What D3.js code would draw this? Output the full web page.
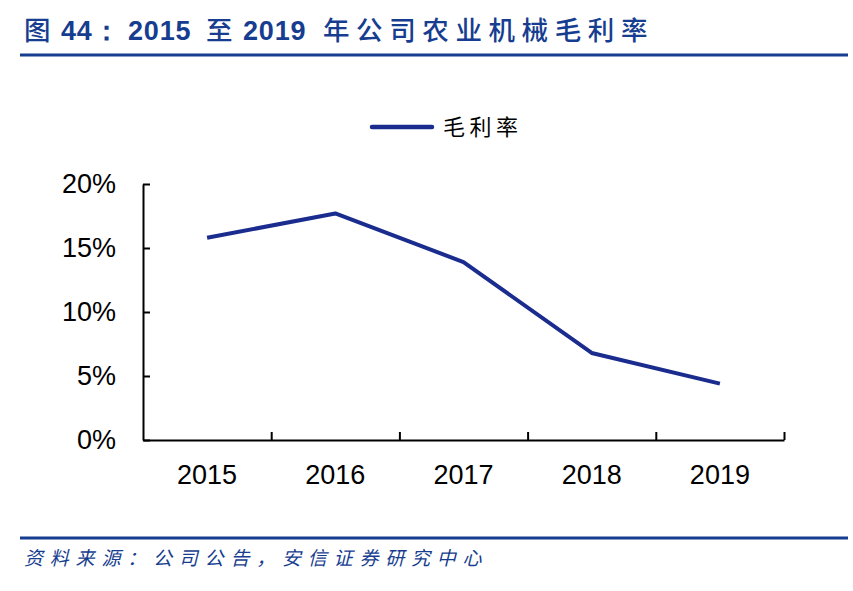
<!DOCTYPE html>
<html>
<head>
<meta charset="utf-8">
<script src="https://cdn.jsdelivr.net/npm/d3@7"></script>
<style>
  html, body { margin: 0; padding: 0; background: #ffffff; }
  svg { display: block; }
</style>
</head>
<body>
<svg id="chart" width="853" height="591"></svg>
<script>
// ---- data ----
const years = ["2015", "2016", "2017", "2018", "2019"];
const grossMargin = [0.158, 0.177, 0.139, 0.068, 0.044];
const yTicks = [0, 0.05, 0.10, 0.15, 0.20];
const seriesName = "毛利率";
const titleParts = ["图", "44：", "2015", "至", "2019", "年公司农业机械毛利率"];
const sourceText = "资料来源：公司公告，安信证券研究中心";

// ---- layout ----
const svg = d3.select("#chart");
const W = 853, H = 591;
const plot = { left: 143, right: 784, top: 184, bottom: 440 };
const blue = "#163d8f";
const lineColor = "#1b2c8f";
const cjk = "'Noto Sans CJK SC', 'Noto Sans', sans-serif";
const latin = "'Liberation Sans', Arial, sans-serif";

svg.append("rect").attr("width", W).attr("height", H).attr("fill", "#fff");

// ---- title ----
const title = svg.append("text").attr("y", 40).attr("fill", blue);
const tx = [24, 61, 128, 206, 243, 323];
titleParts.forEach((t, i) => {
  const isNum = /[0-9]/.test(t);
  title.append("tspan")
    .attr("x", tx[i])
    .attr("font-family", isNum ? latin : cjk)
    .attr("font-weight", isNum ? 700 : 500)
    .attr("font-size", isNum ? 27 : 26.5)
    .attr("letter-spacing", isNum ? 0.8 : 6.6)
    .text(t);
});
svg.append("line").attr("x1", 20).attr("x2", 848).attr("y1", 55).attr("y2", 55)
  .attr("stroke", blue).attr("stroke-width", 3);

// ---- scales ----
const x = d3.scaleBand().domain(years).range([plot.left, plot.right]).padding(0);
const y = d3.scaleLinear().domain([0, 0.2]).range([plot.bottom, plot.top]);
const xb = d3.scaleLinear().domain([0, years.length]).range([plot.left, plot.right]);

// ---- y axis ----
const yAxis = svg.append("g").attr("transform", `translate(${plot.left},0)`)
  .call(d3.axisLeft(y).tickValues(yTicks).tickSizeInner(-7).tickSizeOuter(0)
    .tickPadding(27).tickFormat(d3.format(".0%")));
yAxis.select(".domain").attr("stroke", "#000").attr("stroke-width", 2);
yAxis.selectAll(".tick line").attr("stroke", "#000").attr("stroke-width", 2);
yAxis.selectAll(".tick text").attr("font-family", latin).attr("font-size", 27).attr("fill", "#000");

// ---- x axis (boundary ticks) ----
const xAxisTicks = svg.append("g").attr("transform", `translate(0,${plot.bottom})`)
  .call(d3.axisBottom(xb).ticks(years.length).tickSizeInner(-8).tickSizeOuter(0).tickFormat(""));
xAxisTicks.select(".domain").attr("stroke", "#000").attr("stroke-width", 2);
xAxisTicks.selectAll(".tick line").attr("stroke", "#000").attr("stroke-width", 2);
xAxisTicks.selectAll(".tick").filter(d => d === 0).remove();

// ---- x axis labels ----
const xAxis = svg.append("g").attr("transform", `translate(0,${plot.bottom})`)
  .call(d3.axisBottom(x).tickSize(0).tickPadding(25));
xAxis.select(".domain").remove();
xAxis.selectAll(".tick text").attr("font-family", latin).attr("font-size", 27).attr("fill", "#000");

// ---- line ----
const line = d3.line().x((d, i) => x(years[i]) + x.bandwidth() / 2).y(d => y(d));
svg.append("path").datum(grossMargin)
  .attr("d", line).attr("fill", "none").attr("stroke", lineColor)
  .attr("stroke-width", 4).attr("stroke-linejoin", "round").attr("stroke-linecap", "butt");

// ---- legend ----
const lg = svg.append("g");
lg.append("line").attr("x1", 372).attr("x2", 432).attr("y1", 127).attr("y2", 127)
  .attr("stroke", lineColor).attr("stroke-width", 4.5).attr("stroke-linecap", "round");
lg.append("text").attr("x", 443).attr("y", 127).attr("dy", "0.36em")
  .attr("font-family", cjk).attr("font-size", 22).attr("letter-spacing", 4.5)
  .attr("fill", "#000").text(seriesName);

// ---- footer ----
svg.append("line").attr("x1", 20).attr("x2", 848).attr("y1", 538).attr("y2", 538)
  .attr("stroke", blue).attr("stroke-width", 3);
svg.append("text").attr("x", 24).attr("y", 565)
  .attr("font-family", cjk).attr("font-size", 19).attr("font-style", "italic")
  .attr("letter-spacing", 6.8).attr("fill", blue).text(sourceText);
</script>
</body>
</html>
